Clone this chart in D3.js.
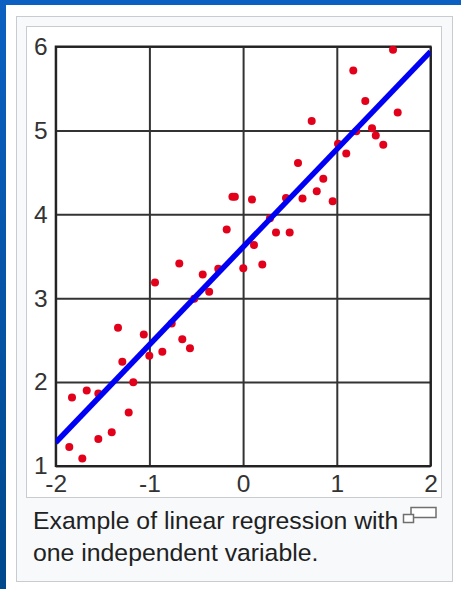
<!DOCTYPE html>
<html>
<head>
<meta charset="utf-8">
<script src="https://cdn.jsdelivr.net/npm/d3@7"></script>
<style>
  html, body { margin: 0; padding: 0; background: #fff; }
  svg { display: block; }
</style>
</head>
<body>
<div id="chart"></div>
<script>
// data
var xTicks = [-2, -1, 0, 1, 2];
var yTicks = [1, 2, 3, 4, 5, 6];
var pointX = [-1.855, -1.716, -1.826, -1.669, -1.545, -1.545, -1.402, -1.221, -1.172, -1.289,
  -1.335, -1.060, -1.001, -0.862, -0.762, -0.649, -0.567, -0.940, -0.681, -0.522,
  -0.431, -0.362, -0.265, -0.175, -0.114, -0.088, 0.095, 0.002, 0.116, 0.205,
  0.287, 0.351, 0.497, 0.458, 0.634, 0.586, 0.732, 0.856, 0.786, 0.956,
  1.013, 1.101, 1.208, 1.176, 1.304, 1.376, 1.416, 1.496, 1.650, 1.600];
var pointY = [1.226, 1.089, 1.815, 1.899, 1.863, 1.321, 1.402, 1.639, 1.998, 2.244,
  2.649, 2.568, 2.313, 2.363, 2.699, 2.512, 2.402, 3.187, 3.413, 2.994,
  3.282, 3.077, 3.351, 3.818, 4.208, 4.208, 4.175, 3.357, 3.633, 3.401,
  3.952, 3.783, 3.783, 4.194, 4.187, 4.611, 5.111, 4.425, 4.274, 4.155,
  4.842, 4.724, 4.990, 5.714, 5.349, 5.027, 4.940, 4.830, 5.212, 5.961];
var fitX = [-2, 2];
var fitY = [1.28, 5.94];
var caption = ["Example of linear regression with", "one independent variable."];

(function () {
  var W = 461, H = 589;
  var plotL = 55.7, plotR = 430.5, plotT = 46.5, plotB = 466;

  var svg = d3.select("#chart").append("svg").attr("width", W).attr("height", H);

  // desktop strips behind the card
  var defs = svg.append("defs");
  var grad = defs.append("linearGradient").attr("id", "deskGrad")
    .attr("x1", 0).attr("y1", 0).attr("x2", 0).attr("y2", 1);
  grad.append("stop").attr("offset", "0%").attr("stop-color", "#0b60c1");
  grad.append("stop").attr("offset", "100%").attr("stop-color", "#00488c");
  svg.append("rect").attr("width", W).attr("height", H).attr("fill", "#fff");
  svg.append("rect").attr("width", W).attr("height", 5).attr("fill", "#0b60c1");
  svg.append("rect").attr("width", 6).attr("height", H).attr("fill", "url(#deskGrad)");

  // thumbnail card
  svg.append("rect").attr("x", 16.5).attr("y", 16.5).attr("width", 436).attr("height", 565)
    .attr("fill", "#f8f9fa").attr("stroke", "#c8ccd1");
  svg.append("rect").attr("x", 26.5).attr("y", 26.5).attr("width", 415).attr("height", 471)
    .attr("fill", "#fff").attr("stroke", "#c8ccd1");

  // scales
  var x = d3.scaleLinear().domain([-2, 2]).range([plotL, plotR]);
  var y = d3.scaleLinear().domain([1, 6]).range([plotB, plotT]);

  // grid
  svg.append("g").attr("class", "grid")
    .attr("transform", "translate(0," + plotB + ")")
    .call(d3.axisBottom(x).tickValues(xTicks).tickSize(-(plotB - plotT)).tickFormat(""))
    .call(function (g) { g.select(".domain").remove(); });
  svg.append("g").attr("class", "grid")
    .attr("transform", "translate(" + plotL + ",0)")
    .call(d3.axisLeft(y).tickValues(yTicks).tickSize(-(plotR - plotL)).tickFormat(""))
    .call(function (g) { g.select(".domain").remove(); });
  svg.selectAll(".grid line").attr("stroke", "#333").attr("stroke-width", 2);

  // frame
  svg.append("rect").attr("x", plotL).attr("y", plotT)
    .attr("width", plotR - plotL).attr("height", plotB - plotT)
    .attr("fill", "none").attr("stroke", "#222").attr("stroke-width", 2);

  // tick labels
  var xAxisG = svg.append("g").attr("transform", "translate(0," + plotB + ")")
    .call(d3.axisBottom(x).tickValues(xTicks).tickSize(0).tickPadding(9).tickFormat(function (d) { return String(d); }));
  var yAxisG = svg.append("g").attr("transform", "translate(" + plotL + ",0)")
    .call(d3.axisLeft(y).tickValues(yTicks).tickSize(0).tickPadding(8).tickFormat(function (d) { return String(d); }));
  [xAxisG, yAxisG].forEach(function (g) {
    g.select(".domain").remove();
    g.selectAll("text").attr("font-family", "'Liberation Sans', Arial, sans-serif")
      .attr("font-size", 24.5).attr("fill", "#333");
  });

  var clip = defs.append("clipPath").attr("id", "plotClip");
  clip.append("rect").attr("x", plotL).attr("y", plotT).attr("width", plotR - plotL).attr("height", plotB - plotT);

  // points
  svg.append("g").selectAll("circle")
    .data(d3.range(pointX.length))
    .join("circle")
    .attr("cx", function (i) { return x(pointX[i]); })
    .attr("cy", function (i) { return y(pointY[i]); })
    .attr("r", 4)
    .attr("fill", "#e2001a");

  // fitted line
  var line = d3.line().x(function (i) { return x(fitX[i]); }).y(function (i) { return y(fitY[i]); });
  svg.append("path").datum(d3.range(fitX.length))
    .attr("d", line)
    .attr("clip-path", "url(#plotClip)")
    .attr("fill", "none").attr("stroke", "#0000f5").attr("stroke-width", 5.5);

  // caption
  svg.append("g").selectAll("text")
    .data(caption)
    .join("text")
    .attr("x", 33)
    .attr("y", function (d, i) { return 529 + i * 32; })
    .attr("font-family", "'Liberation Sans', Arial, sans-serif")
    .attr("font-size", 24.8)
    .attr("fill", "#202122")
    .text(function (d) { return d; });

  // enlarge icon
  var icon = svg.append("g").attr("fill", "#fff").attr("stroke", "#6f6f6f").attr("stroke-width", 1.5);
  icon.append("rect").attr("x", 411).attr("y", 507.5).attr("width", 25).attr("height", 10);
  icon.append("rect").attr("x", 403.5).attr("y", 514.5).attr("width", 10).attr("height", 8);
})();
</script>
</body>
</html>
